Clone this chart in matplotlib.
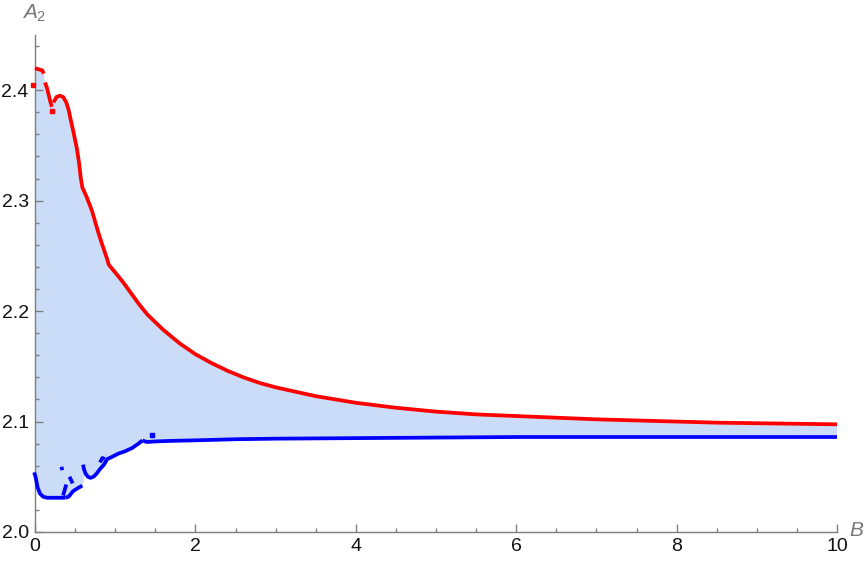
import numpy as np
import matplotlib
matplotlib.use("Agg")
import matplotlib.pyplot as plt
from matplotlib.ticker import MultipleLocator, FormatStrFormatter

# ---- data ----
# upper (red) branch pieces
red1_B = [0.00, 0.04, 0.09, 0.11]
red1_A = [2.420, 2.419, 2.418, 2.415]
red2_B = [0.125, 0.15, 0.17, 0.19, 0.21]
red2_A = [2.407, 2.402, 2.396, 2.390, 2.385]
red3_B = [0.23, 0.27, 0.31, 0.35, 0.39, 0.42, 0.44, 0.48, 0.52, 0.55, 0.57, 0.59,
          0.64, 0.71, 0.79, 0.83, 0.90, 0.92, 1.00, 1.10, 1.20, 1.30, 1.40, 1.50,
          1.60, 1.70, 1.80, 1.90, 2.00, 2.20, 2.40, 2.60, 2.80, 3.00, 3.25, 3.50,
          3.75, 4.00, 4.50, 5.00, 5.50, 6.00, 6.50, 7.00, 7.50, 8.00, 8.50, 9.00,
          9.50, 10.0]
red3_A = [2.389, 2.394, 2.395, 2.394, 2.389, 2.382, 2.375, 2.362, 2.348, 2.334, 2.321, 2.312,
          2.304, 2.291, 2.271, 2.262, 2.247, 2.242, 2.235, 2.226, 2.216, 2.206, 2.197, 2.190,
          2.183, 2.177, 2.171, 2.166, 2.161, 2.153, 2.146, 2.140, 2.135, 2.131, 2.127, 2.123,
          2.120, 2.117, 2.1125, 2.109, 2.1065, 2.105, 2.1035, 2.102, 2.101, 2.100, 2.099, 2.0985,
          2.098, 2.0975]
red_pts_B = [-0.02, 0.21]
red_pts_A = [2.405, 2.381]

# lower (blue) branch pieces
blue1_B = [-0.01, 0.01, 0.03, 0.06, 0.10, 0.15, 0.22, 0.28, 0.33, 0.38]
blue1_A = [2.054, 2.049, 2.041, 2.035, 2.032, 2.031, 2.031, 2.031, 2.031, 2.031]
blue2_B = [0.35, 0.37, 0.39]
blue2_A = [2.033, 2.038, 2.043]
blue3_B = [0.33, 0.34]
blue3_A = [2.059, 2.056]
blue4_B = [0.43, 0.45, 0.47]
blue4_A = [2.050, 2.047, 2.044]
blue5_B = [0.38, 0.42, 0.475, 0.54, 0.59]
blue5_A = [2.031, 2.032, 2.037, 2.040, 2.042]
blue6_B = [0.60, 0.61, 0.63, 0.66, 0.69, 0.73, 0.77, 0.81, 0.86, 0.90, 0.96, 1.04,
           1.12, 1.21, 1.29, 1.34]
blue6_A = [2.061, 2.057, 2.053, 2.050, 2.049, 2.050, 2.053, 2.057, 2.061, 2.066, 2.068, 2.071,
           2.073, 2.076, 2.080, 2.083]
blue7_B = [0.81, 0.84, 0.87]
blue7_A = [2.063, 2.067, 2.066]
blue8_B = [1.34, 1.37, 1.40, 1.50, 1.70, 2.00, 2.50, 3.00, 4.00, 5.00, 6.00, 7.00, 8.00, 10.0]
blue8_A = [2.083, 2.082, 2.0815, 2.082, 2.0825, 2.083, 2.084, 2.0845, 2.085, 2.0855, 2.086,
           2.086, 2.086, 2.086]
blue_pts_B = [1.46]
blue_pts_A = [2.088]

x_ticks = [0, 2, 4, 6, 8, 10]
y_ticks = [2.0, 2.1, 2.2, 2.3, 2.4]

# ---- figure ----
plt.rcParams['mathtext.fontset'] = 'custom'
plt.rcParams['mathtext.it'] = 'Liberation Sans:italic'
plt.rcParams['mathtext.rm'] = 'Liberation Sans'

fig = plt.figure(figsize=(8.68, 5.62), dpi=100)
ax = fig.add_axes([35 / 868, 1 - 532 / 562, (837 - 35) / 868, (532 - 35) / 562])
ax.set_xlim(0, 10)
ax.set_ylim(2.0, 2.45)

fill_col = '#cadcf7'
upper_B = np.concatenate([red1_B, red2_B, red3_B])
upper_A = np.concatenate([red1_A, red2_A, red3_A])
lower_B = np.concatenate([blue1_B, blue5_B[1:], blue6_B[2:], blue8_B[1:]])
lower_A = np.concatenate([blue1_A, blue5_A[1:], blue6_A[2:], blue8_A[1:]])
poly_B = np.concatenate([upper_B, lower_B[::-1]])
poly_A = np.concatenate([upper_A, lower_A[::-1]])
ax.fill(poly_B, poly_A, color=fill_col, lw=0, zorder=1)

lw = 2.7
for B, A in [(red1_B, red1_A), (red2_B, red2_A), (red3_B, red3_A)]:
    ax.plot(B, A, color='#ff0000', lw=lw, solid_capstyle='butt', solid_joinstyle='round',
            zorder=3, clip_on=False)
ax.plot(red_pts_B, red_pts_A, 's', color='#ff0000', ms=3, zorder=3, clip_on=False)

for B, A in [(blue1_B, blue1_A), (blue2_B, blue2_A), (blue3_B, blue3_A), (blue4_B, blue4_A),
             (blue5_B, blue5_A), (blue6_B, blue6_A), (blue7_B, blue7_A), (blue8_B, blue8_A)]:
    ax.plot(B, A, color='#0000ff', lw=lw, solid_capstyle='butt', solid_joinstyle='round',
            zorder=3, clip_on=False)
ax.plot(blue_pts_B, blue_pts_A, 's', color='#0000ff', ms=3, zorder=3, clip_on=False)

# axes styling (Mathematica-like)
axis_col = '#7f7f7f'
for s in ['top', 'right']:
    ax.spines[s].set_visible(False)
for s in ['left', 'bottom']:
    ax.spines[s].set_color(axis_col)
    ax.spines[s].set_linewidth(1.0)

ax.set_xticks(x_ticks)
ax.set_yticks(y_ticks)
ax.xaxis.set_minor_locator(MultipleLocator(0.5))
ax.yaxis.set_minor_locator(MultipleLocator(0.02))
ax.yaxis.set_major_formatter(FormatStrFormatter('%.1f'))
ax.tick_params(which='both', direction='in', color=axis_col, width=1.0,
               labelsize=14, labelcolor='#111111')
ax.tick_params(which='major', length=5.5)
ax.tick_params(which='minor', length=3.2)
ax.tick_params(axis='y', pad=4.5)
ax.tick_params(axis='x', pad=4.5)
for lab in ax.get_xticklabels() + ax.get_yticklabels():
    lab.set_fontfamily('Liberation Sans')

fig.text(22 / 868, 1 - 13 / 562, r'$A_{\mathrm{2}}$', fontsize=15, color='#777777',
         ha='left', va='center')
fig.text(849 / 868, 1 - 530 / 562, r'$B$', fontsize=15, color='#777777',
         ha='left', va='center')

fig.savefig('out.png', dpi=100)
